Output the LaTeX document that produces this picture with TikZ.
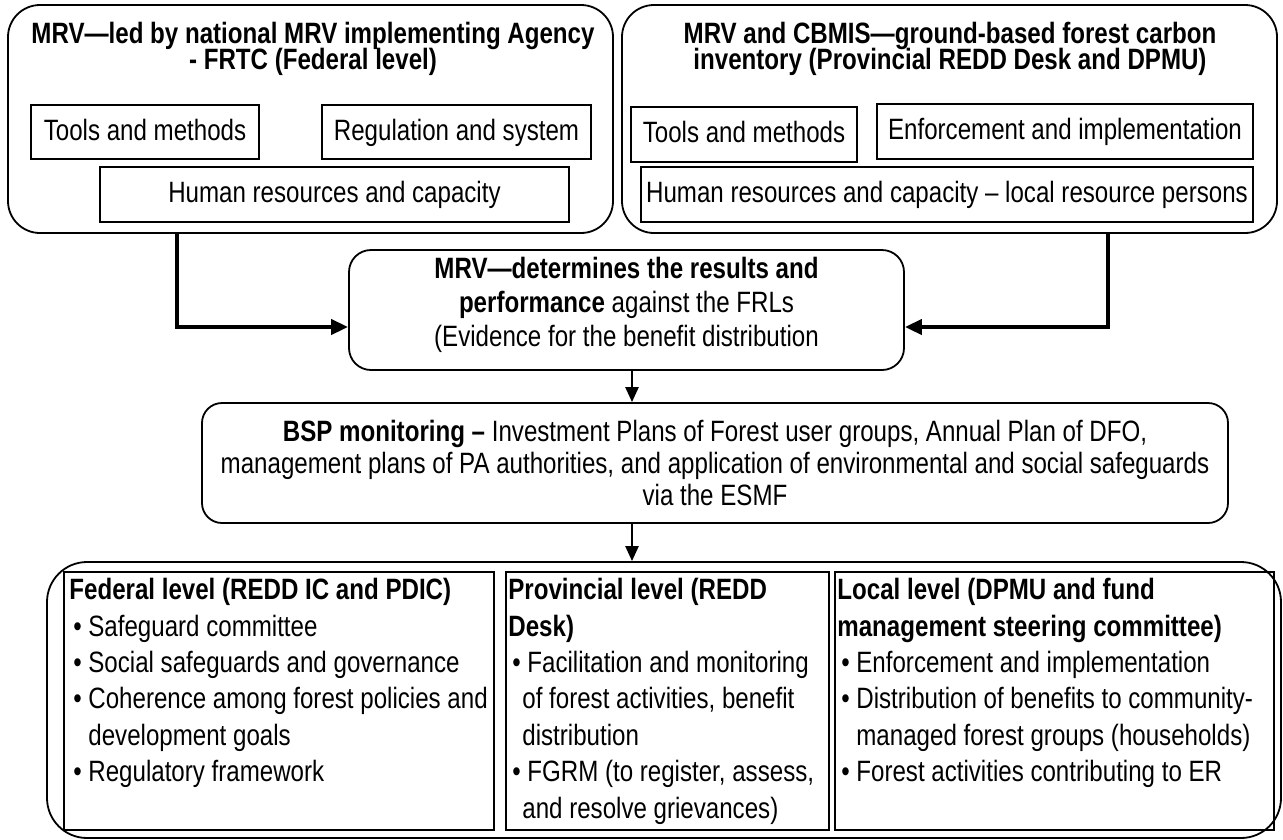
\documentclass[tikz,border=0pt]{standalone}
\usepackage{fontspec}
\setmainfont{Liberation Sans}[FakeStretch=0.82]
\usetikzlibrary{arrows.meta}
\newcommand{\bul}{\makebox[19pt][l]{\hspace{4pt}\textbullet}}
\newcommand{\cont}{\hspace*{19pt}}
\newcommand{\tightls}{\lineskiplimit-30pt\relax}
\begin{document}
\begin{tikzpicture}[x=1pt,y=-1pt,
  container/.style={draw, line width=1.8pt, rounded corners=32pt, inner sep=0pt},
  roundbox/.style={draw, line width=1.8pt, rounded corners=22pt, inner sep=0pt},
  plainbox/.style={draw, line width=1.6pt, inner sep=0pt, align=center,
    font=\fontsize{29.4}{34}\selectfont, text height=21pt, text depth=5pt},
  levelbox/.style={draw, line width=1.6pt, inner sep=0pt, minimum height=258pt},
  titletext/.style={inner sep=0pt, align=center,
    font=\bfseries\fontsize{29.4}{26.5}\selectfont\tightls},
  bodytext/.style={inner sep=0pt, align=center},
  listtext/.style={inner sep=0pt, align=left, anchor=north west,
    font=\fontsize{29.4}{36.4}\selectfont\tightls},
  thickarrow/.style={line width=4pt, -{Triangle[length=17pt,width=15pt]}},
  thinarrow/.style={line width=2.4pt, -{Triangle[length=15pt,width=13pt]}}
]
\useasboundingbox[fill=white] (0,0) rectangle (1283,839);

% top containers
\node[container, minimum width=605pt, minimum height=228pt] (tl) at (310.5,119) {};
\node[container, minimum width=655pt, minimum height=228pt] (tr) at (949.5,119) {};
\node[titletext, anchor=north] (tltitle) at (313,21.5) {MRV—led by national MRV implementing Agency\\- FRTC (Federal level)};
\node[titletext, anchor=north] (trtitle) at (950,21.5) {MRV and CBMIS—ground-based forest carbon\\inventory (Provincial REDD Desk and DPMU)};

% inner boxes left
\node[plainbox, minimum width=228pt, minimum height=54pt] (ltools) at (145,132) {Tools and methods};
\node[plainbox, minimum width=269pt, minimum height=54pt] (lreg) at (456.5,132) {Regulation and system};
\node[plainbox, minimum width=469pt, minimum height=55pt] (lhum) at (334.5,194.5) {Human resources and capacity};
% inner boxes right
\node[plainbox, minimum width=226pt, minimum height=55pt] (rtools) at (744,134.5) {Tools and methods};
\node[plainbox, minimum width=376pt, minimum height=55pt] (renf) at (1065,131.5) {Enforcement and implementation};
\node[plainbox, minimum width=612pt, minimum height=55pt] (rhum) at (947,194.5) {Human resources and capacity – local resource persons};

% middle box
\node[roundbox, minimum width=555pt, minimum height=120pt] (mid) at (626.5,310) {};
\node[bodytext, anchor=north, font=\fontsize{29.4}{34}\selectfont\tightls] (midtext) at (626.5,256.5) {\textbf{MRV—determines the results and}\\\textbf{performance} against the FRLs\\(Evidence for the benefit distribution};

% BSP box
\node[roundbox, rounded corners=20pt, minimum width=1026pt, minimum height=120pt] (bsp) at (715,463) {};
\node[bodytext, anchor=north, font=\fontsize{29.4}{32.3}\selectfont\tightls] (bsptext) at (715,419.5) {\textbf{BSP monitoring –} Investment Plans of Forest user groups, Annual Plan of DFO,\\management plans of PA authorities, and application of environmental and social safeguards\\via the ESMF};

% bottom container
\node[container, rounded corners=40pt, minimum width=1234pt, minimum height=276pt] (big) at (664,700) {};
\node[levelbox, minimum width=430pt] (fed) at (279,701) {};
\node[levelbox, minimum width=323pt] (prov) at (667.5,701) {};
\node[levelbox, minimum width=439pt] (loc) at (1054.5,701) {};

\node[listtext] (fedtext) at ([xshift=6pt,yshift=-7pt]fed.north west) {\textbf{Federal level (REDD IC and PDIC)}\\
\bul Safeguard committee\\
\bul Social safeguards and governance\\
\bul Coherence among forest policies and\\
\cont development goals\\
\bul Regulatory framework};
\node[listtext] (provtext) at ([xshift=3pt,yshift=-7pt]prov.north west) {\textbf{Provincial level (REDD}\\
\textbf{Desk)}\\
\bul Facilitation and monitoring\\
\hspace*{14pt}of forest activities, benefit\\
\hspace*{14pt}distribution\\
\bul FGRM (to register, assess,\\
\hspace*{14pt}and resolve grievances)};
\node[listtext] (loctext) at ([xshift=3pt,yshift=-7pt]loc.north west) {\textbf{Local level (DPMU and fund}\\
\textbf{management steering committee)}\\
\bul Enforcement and implementation\\
\bul Distribution of benefits to community-\\
\cont managed forest groups (households)\\
\bul Forest activities contributing to ER};

% connectors
\coordinate (lx) at (177,0);
\coordinate (rx) at (1108,0);
\coordinate (dx) at (632,0);
\draw[thickarrow] (tl.south -| lx) |- ([yshift=-17pt]mid.west);
\draw[thickarrow] (tr.south -| rx) |- ([yshift=-17pt]mid.east);
\draw[thinarrow] (mid.south -| dx) -- (bsp.north -| dx);
\draw[thinarrow] (bsp.south -| dx) -- (big.north -| dx);
\end{tikzpicture}
\end{document}
